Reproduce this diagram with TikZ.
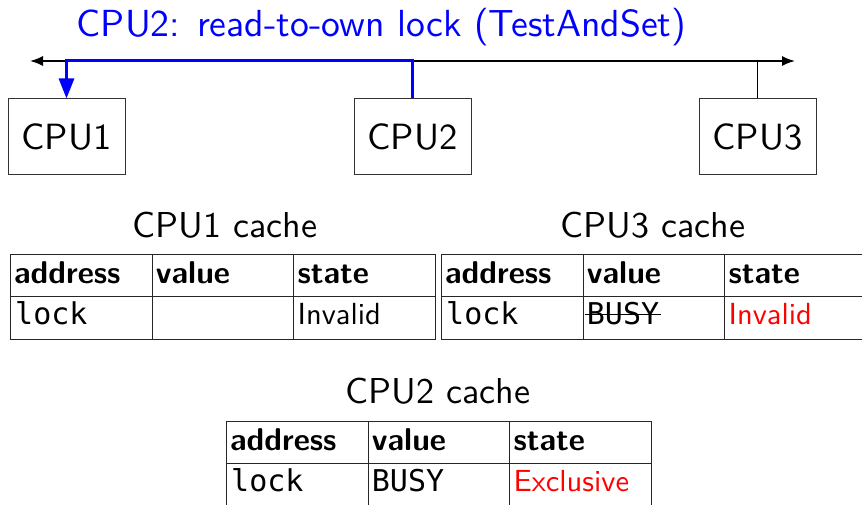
\documentclass[tikz,border=0pt]{standalone}
\usepackage{fontspec}
\setmainfont{lmsans10-regular.otf}[BoldFont=lmsans10-bold.otf]
\setmonofont{DejaVu Sans Mono}
\usetikzlibrary{arrows.meta,calc}

% one cache table: prefix, left x, top y, value cell text, state cell text
\newcommand\CacheTable[5]{%
  \foreach \c/\cx in {a/0,v/1,s/2}{%
    \node[cell] (#1h\c) at ({#2+\cx*141.7},#3) {};
    \node[cell] (#1r\c) at ({#2+\cx*141.7},{#3+42.3}) {};
  }%
  \node[hd] (#1ht1) at ($(#1ha.north west)+(4,29)$) {address};
  \node[hd] (#1ht2) at ($(#1hv.north west)+(4,29)$) {value};
  \node[hd] (#1ht3) at ($(#1hs.north west)+(4,29)$) {state};
  \node[bd,font=\fontsize{30}{30}\selectfont\ttfamily] (#1rt1) at ($(#1ra.north west)+(5,28)$) {lock};
  \node[bd,font=\fontsize{30}{30}\selectfont\ttfamily] (#1rt2) at ($(#1rv.north west)+(4,28)$) {#4};
  \node[bd] (#1rt3) at ($(#1rs.north west)+(4,28)$) {#5};
}

\begin{document}
\begin{tikzpicture}[x=1pt,y=-1pt,
  cpubox/.style={draw=black!80,line width=1pt,minimum width=117pt,minimum height=76pt,
    inner sep=0pt,font=\fontsize{36.5}{36.5}\selectfont},
  cell/.style={draw=black!85,line width=1pt,minimum width=141.7pt,minimum height=42.3pt,
    anchor=north west,inner sep=0pt},
  hd/.style={anchor=base west,inner sep=0pt,font=\fontsize{31.5}{31.5}\selectfont\bfseries},
  bd/.style={anchor=base west,inner sep=0pt,font=\fontsize{30.5}{30.5}\selectfont},
  lbl/.style={anchor=base,inner sep=0pt,font=\fontsize{36}{36}\selectfont}]
\useasboundingbox (0,0) rectangle (862,505);

% title
\node[lbl,text=blue,font=\fontsize{37.7}{37.7}\selectfont] (title) at (381.5,37) {CPU2: read-to-own lock (TestAndSet)};

% processors
\node[cpubox] (cpu1) at (66.5,137) {CPU1};
\node[cpubox] (cpu2) at (412.5,137) {CPU2};
\node[cpubox] (cpu3) at (757.5,137) {CPU3};

% shared bus
\coordinate (busL) at (30,61);
\coordinate (busR) at (795,61);
\draw[line width=1.6pt,{Latex[length=13pt,width=10pt]}-{Latex[length=13pt,width=10pt]}] (busL) -- (busR);
\draw[line width=1.2pt] (cpu3.north) -- (cpu3.north |- busR);

% read-to-own request from CPU2 to CPU1
\coordinate (tap) at (cpu1.north |- busL);
\draw[blue,line width=3pt,line join=miter,-{Triangle[length=20pt,width=15pt]}]
  (cpu2.north) |- (tap) -- (cpu1.north);

% caches
\node[lbl] (c1lbl) at (225,237) {CPU1 cache};
\node[lbl] (c3lbl) at (653,237) {CPU3 cache};
\node[lbl] (c2lbl) at (438,403) {CPU2 cache};

\CacheTable{t1}{10}{254}{}{Invalid}
\CacheTable{t3}{441}{254}{BUSY}{\textcolor{red}{Invalid}}
\CacheTable{t2}{226}{421}{BUSY}{\textcolor{red}{Exclusive}}

% stale value struck out
\draw[line width=1.1pt] ($(t3rt2.base west)+(-2,-10)$) -- ($(t3rt2.base east)+(2,-10)$);
\end{tikzpicture}
\end{document}
